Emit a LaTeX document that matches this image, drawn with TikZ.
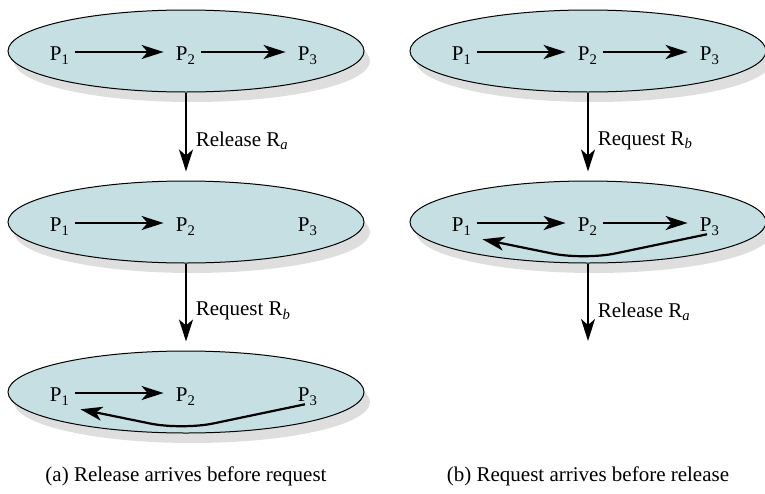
\documentclass[tikz,border=0pt]{standalone}
\usepackage{fontspec}
\setmainfont{Liberation Serif}
\usepackage{xcolor}
\usetikzlibrary{arrows.meta,positioning,shapes.geometric,shadows,calc}
\definecolor{sysfill}{RGB}{197,223,226}
\tikzset{
  sys/.style={ellipse,draw,line width=0.5pt,fill=sysfill,minimum width=178pt,minimum height=41pt,inner sep=0pt,
    drop shadow={shadow xshift=3pt,shadow yshift=-5pt,fill=black!13,opacity=1}},
  proc/.style={inner sep=1pt,font=\fontsize{10.5}{12}\selectfont,text depth=0pt},
  arr/.style={-{Stealth[length=11pt,width=7pt,inset=3pt]},line width=1.1pt},
  lbl/.style={right,xshift=1pt,font=\fontsize{10.5}{12}\selectfont},
  captxt/.style={font=\fontsize{10.5}{12}\selectfont},
}
\begin{document}
\begin{tikzpicture}[x=0.5pt,y=-0.5pt]
\useasboundingbox (0,0) rectangle (765,493);
% states, (a) left and (b) right
\node[sys] (a1) at (186,51) {};
\node[sys] (a2) at (186,222) {};
\node[sys] (a3) at (186,392) {};
\node[sys] (b1) at (588,51) {};
\node[sys] (b2) at (588,222) {};
\foreach \s in {a1,a2,a3,b1,b2}
{\node[proc] (\s-p1) at ($(\s)+(-126,3)$) {P\textsubscript{1}};
 \node[proc] (\s-p2) at ($(\s)+(0,3)$) {P\textsubscript{2}};
 \node[proc] (\s-p3) at ($(\s)+(122,3)$) {P\textsubscript{3}};}
% waits-for edges
\foreach \s in {a1,a2,a3,b1,b2} {\draw[arr,shorten <=1.5pt,shorten >=5pt] ([yshift=1pt]\s-p1.east) -- ([yshift=1pt]\s-p2.west);}
\foreach \s in {a1,b1,b2} {\draw[arr,shorten <=1.5pt,shorten >=5pt] ([yshift=1pt]\s-p2.east) -- ([yshift=1pt]\s-p3.west);}
\foreach \s in {a3,b2} {\draw[arr,rounded corners=16pt] ([xshift=-1.5pt]\s-p3.south) -- ($(\s)+(-4,38)$) -- ([shift={(4pt,-2.5pt)}]\s-p1.south east);}
% transitions
\draw[arr,shorten >=4.5pt] (a1) -- (a2) node[lbl,pos=0.55] {Release R\textsubscript{\textit{a}}};
\draw[arr,shorten >=4.5pt] (a2) -- (a3) node[lbl,pos=0.55] {Request R\textsubscript{\textit{b}}};
\draw[arr,shorten >=4.5pt] (b1) -- (b2) node[lbl,pos=0.55] {Request R\textsubscript{\textit{b}}};
\coordinate (bend) at (588,341);
\draw[arr] (b2) -- (bend) node[lbl,pos=0.62] {Release R\textsubscript{\textit{a}}};
% captions
\node[captxt] (capa) at (186,476) {(a) Release arrives before request};
\node[captxt] (capb) at (588,476) {(b) Request arrives before release};
\end{tikzpicture}
\end{document}
